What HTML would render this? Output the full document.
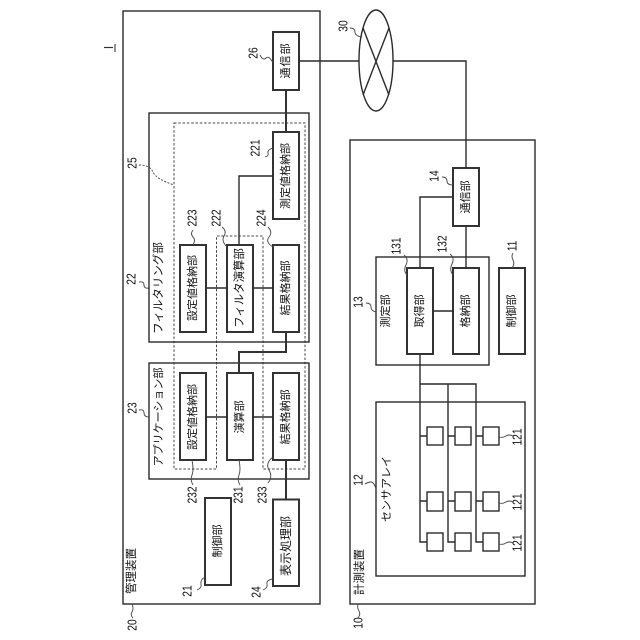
<!DOCTYPE html>
<html><head><meta charset="utf-8"><style>
html,body{margin:0;padding:0;background:#fff}
svg{display:block}
.b rect,.b ellipse,.b path{fill:none;stroke:#2a2a2a;stroke-width:1.4}
.b rect.h{stroke:#333;stroke-width:2}
.t path{fill:none;stroke:#333;stroke-width:2}
.s path{fill:none;stroke:#444;stroke-width:.9}
.d path{fill:none;stroke:#444;stroke-width:1;stroke-dasharray:2.5 1.8}
text{font-family:"Liberation Sans","Noto Sans CJK JP",sans-serif;fill:#111;text-anchor:middle;dominant-baseline:central}
.j{font-size:11px}
.n{font-size:12.5px}
</style></head><body>
<svg width="640" height="640" viewBox="0 0 640 640" xmlns="http://www.w3.org/2000/svg">
<g class="d"><path d="M174 123H305V469H263V236H216.500V469H174Z"/></g>
<g class="b">
<rect x="123" y="11" width="197" height="593"/>
<rect x="350" y="140" width="185" height="464"/>
<rect x="149" y="113" width="160" height="229"/>
<rect x="149" y="363" width="160" height="116"/>
<rect x="376" y="257" width="113" height="108"/>
<rect x="376" y="402" width="149" height="174"/>
<rect class="h" x="273" y="32" width="26" height="58"/>
<rect class="h" x="273" y="132" width="26" height="87"/>
<rect class="h" x="180" y="245" width="26" height="87"/>
<rect class="h" x="227" y="245" width="26" height="87"/>
<rect class="h" x="273" y="245" width="26" height="87"/>
<rect class="h" x="180" y="373" width="26" height="87"/>
<rect class="h" x="227" y="373" width="26" height="87"/>
<rect class="h" x="273" y="373" width="26" height="87"/>
<rect class="h" x="273" y="499.500" width="26" height="86.500"/>
<rect class="h" x="205" y="498" width="26" height="87"/>
<rect class="h" x="453" y="168" width="26" height="58"/>
<rect class="h" x="407" y="268" width="26" height="86"/>
<rect class="h" x="453" y="268" width="26" height="86"/>
<rect class="h" x="499" y="268" width="26" height="86"/>
<rect x="427" y="427" width="16" height="18"/><rect x="455" y="427" width="16" height="18"/><rect x="483" y="427" width="16" height="18"/>
<rect x="427" y="492" width="16" height="19"/><rect x="455" y="492" width="16" height="19"/><rect x="483" y="492" width="16" height="19"/>
<rect x="427" y="533" width="16" height="18"/><rect x="455" y="533" width="16" height="18"/><rect x="483" y="533" width="16" height="18"/>
<ellipse cx="376" cy="60.500" rx="17" ry="50.500"/>
<path d="M363 28L389 95M389 28L363 95"/>
<path d="M299 61H359M393 61H466V168M453 197H420V268M466 226V268M433 311H453M420 354V542H427M420 384H476V542H483M448 384V542H455M420 436H427M448 436H455M476 436H483M420 501H427M448 501H455M476 501H483"/>
<path d="M273 176H239V245M206 288H227M253 288H273M206 417H227M253 417H273"/>
</g>
<g class="t"><path d="M286 90V132M286 332V352H239V373M286 460V499"/></g>
<g class="s">
<path d="M260 55q3 6 6 3t7 5"/>
<path d="M265 157q4 -1 3 -4t5 -5"/>
<path d="M193 230q-3 4 0 7t0 8"/>
<path d="M222 227q5 4 2 9t3 11"/>
<path d="M268 227q5 5 1 10t4 10"/>
<path d="M139 282q5 -1 5 3t5 3"/>
<path d="M139 410q5 -1 5 3t5 4"/>
<path d="M193 485q-3 -5 -1 -10t0 -15"/>
<path d="M240 485q-3 -5 -1 -10t0 -15"/>
<path d="M268 483q5 -6 1 -13t4 -13"/>
<path d="M197 590q5 -2 4 -6t4 -7"/>
<path d="M263 590q5 -2 4 -6t6 -5"/>
<path d="M133 618q-3 -3 -1 -6t0 -8"/>
<path d="M358 618q3 -4 1 -7t-1 -7"/>
<path d="M350 28q5 0 5 4t7 5"/>
<path d="M442 177q5 0 5 4t6 4"/>
<path d="M404 255q5 4 2 10t1 10"/>
<path d="M450 254q5 4 2 10t1 11"/>
<path d="M366 303q5 0 5 4t5 5"/>
<path d="M365 484q3 -2 6 -2t5 7"/>
<path d="M513 253q-2 3 0 7t-1 8"/>
<path d="M499 437q4 1 7 -1t7 0"/>
<path d="M499 503q4 1 7 -1t7 0"/>
<path d="M499 544q4 1 7 -1t7 0"/>
<path stroke-dasharray="2 1.500" d="M139 165q11 0 14 7t21 13"/>
</g>
<line x1="115" y1="44" x2="115" y2="52" stroke="#777" stroke-width="1.6"/>
<line x1="104" y1="47.500" x2="113" y2="47.500" stroke="#333" stroke-width="1.2"/>
<g class="j">
<text transform="translate(286 61) rotate(-90)" textLength="35" lengthAdjust="spacing">通信部</text>
<text transform="translate(286 176) rotate(-90)">測定値格納部</text>
<text transform="translate(193 288) rotate(-90)">設定値格納部</text>
<text transform="translate(240 288) rotate(-90)" style="font-size:11.4px">フィルタ演算部</text>
<text transform="translate(286 288) rotate(-90)">結果格納部</text>
<text transform="translate(193 417) rotate(-90)">設定値格納部</text>
<text transform="translate(240 417) rotate(-90)">演算部</text>
<text transform="translate(286 417) rotate(-90)">結果格納部</text>
<text transform="translate(286 546) rotate(-90)" style="font-size:12px">表示処理部</text>
<text transform="translate(218 541) rotate(-90)">制御部</text>
<text transform="translate(159 288) rotate(-90)" style="font-size:11.5px">フィルタリング部</text>
<text transform="translate(159 417) rotate(-90)">アプリケーション部</text>
<text transform="translate(132 571) rotate(-90)" style="font-size:11.5px">管理装置</text>
<text transform="translate(360 572) rotate(-90)" style="font-size:11.5px">計測装置</text>
<text transform="translate(387 489) rotate(-90)">センサアレイ</text>
<text transform="translate(386 311) rotate(-90)">測定部</text>
<text transform="translate(420 311) rotate(-90)">取得部</text>
<text transform="translate(466 311) rotate(-90)">格納部</text>
<text transform="translate(512 311) rotate(-90)">制御部</text>
<text transform="translate(466 197) rotate(-90)">通信部</text>
</g>
<g class="n">
<text transform="translate(254 53) rotate(-90) scale(.82 1)">26</text>
<text transform="translate(256 148) rotate(-90) scale(.82 1)">221</text>
<text transform="translate(133 163) rotate(-90) scale(.82 1)">25</text>
<text transform="translate(193 218) rotate(-90) scale(.82 1)">223</text>
<text transform="translate(217 218) rotate(-90) scale(.82 1)">222</text>
<text transform="translate(262 218) rotate(-90) scale(.82 1)">224</text>
<text transform="translate(132 279) rotate(-90) scale(.82 1)">22</text>
<text transform="translate(133 408) rotate(-90) scale(.82 1)">23</text>
<text transform="translate(193 495) rotate(-90) scale(.82 1)">232</text>
<text transform="translate(239 495) rotate(-90) scale(.82 1)">231</text>
<text transform="translate(263 495) rotate(-90) scale(.82 1)">233</text>
<text transform="translate(188 591) rotate(-90) scale(.82 1)">21</text>
<text transform="translate(257 592) rotate(-90) scale(.82 1)">24</text>
<text transform="translate(133 625) rotate(-90) scale(.82 1)">20</text>
<text transform="translate(344 26) rotate(-90) scale(.82 1)">30</text>
<text transform="translate(435 176) rotate(-90) scale(.82 1)">14</text>
<text transform="translate(397 246) rotate(-90) scale(.82 1)">131</text>
<text transform="translate(443 244) rotate(-90) scale(.82 1)">132</text>
<text transform="translate(359 302) rotate(-90) scale(.82 1)">13</text>
<text transform="translate(513 246) rotate(-90) scale(.82 1)">11</text>
<text transform="translate(359 480) rotate(-90) scale(.82 1)">12</text>
<text transform="translate(359 623) rotate(-90) scale(.82 1)">10</text>
<text transform="translate(518 437) rotate(-90) scale(.82 1)">121</text>
<text transform="translate(518 502) rotate(-90) scale(.82 1)">121</text>
<text transform="translate(518 543) rotate(-90) scale(.82 1)">121</text>
</g>
</svg>
</body></html>
